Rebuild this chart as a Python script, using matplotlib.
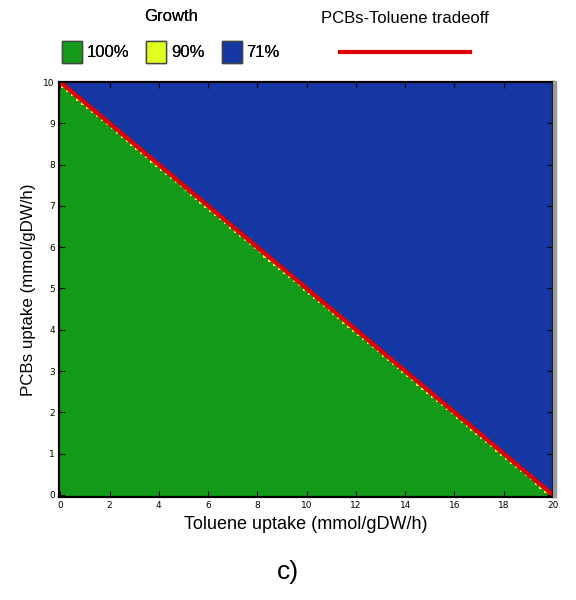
import numpy as np
import matplotlib
matplotlib.use('Agg')
import matplotlib.pyplot as plt
from matplotlib.colors import ListedColormap, BoundaryNorm
from matplotlib.patches import Patch, Rectangle
from matplotlib.lines import Line2D

# uptake grids (mmol/gDW/h)
toluene = np.linspace(0, 20, 201)
pcbs = np.linspace(0, 10, 101)

# maximum uptakes defining the tradeoff line
tradeoff_toluene = [0, 20]
tradeoff_pcbs = [10, 0]

growth_labels = ['100%', '90%', '71%']
growth_colors = ['#1437a4', '#dfff1f', '#139a19']

# relative growth on the grid, in steps of 0.05 along pcbs + toluene/2:
# full growth below the tradeoff, 90% one step under it, 71% on and above it
T, P = np.meshgrid(np.arange(len(toluene)), np.arange(len(pcbs)))
steps = 2 * P + T
growth = np.full(steps.shape, 100)
growth[steps == 199] = 90
growth[steps >= 200] = 71

fig = plt.figure(figsize=(5.76, 6.0), dpi=100)
ax = fig.add_axes([59 / 576, 103 / 600, 494 / 576, 415 / 600])

# soft shadow along the right edge of the plot frame
fig.patches.append(Rectangle((553 / 576, 103 / 600), 3 / 576, 416 / 600,
                             transform=fig.transFigure, color='#9a9a9a',
                             zorder=0))

cmap = ListedColormap(growth_colors)
norm = BoundaryNorm([60, 80, 95, 110], cmap.N)
dx = toluene[1] - toluene[0]
dy = pcbs[1] - pcbs[0]
ax.imshow(growth, origin='lower', cmap=cmap, norm=norm, aspect='auto',
          interpolation='nearest',
          extent=[toluene[0] - dx / 2, toluene[-1] + dx / 2,
                  pcbs[0] - dy / 2, pcbs[-1] + dy / 2])
ax.plot(tradeoff_toluene, tradeoff_pcbs, color='#e00000', lw=3.2,
        solid_capstyle='butt')

ax.set_xlim(-0.05, 20)
ax.set_ylim(-0.05, 10)
ax.set_xticks(np.arange(0, 21, 2))
ax.set_yticks(np.arange(0, 11, 1))
ax.tick_params(direction='in', labelsize=6.5, length=4, width=0.8,
               top=True, right=True, pad=3)
for sp in ax.spines.values():
    sp.set_linewidth(1.6)

ax.set_xlabel('Toluene uptake (mmol/gDW/h)', labelpad=4,
              family=['Liberation Sans', 'DejaVu Sans'], fontsize=13)
ax.set_ylabel('PCBs uptake (mmol/gDW/h)', labelpad=5,
              family=['Liberation Sans', 'DejaVu Sans'], fontsize=12.2)
fig.text(0.5, 1 - 572 / 600, 'c)', ha='center', va='center',
         family=['Liberation Sans', 'DejaVu Sans'], fontsize=19)

leg_font = {'family': ['Liberation Sans', 'DejaVu Sans'], 'size': 12}
patches = [Patch(facecolor=c, edgecolor='#444444', lw=1)
           for c in [growth_colors[2], growth_colors[1], growth_colors[0]]]
leg1 = fig.legend(handles=patches, labels=growth_labels, title='Growth',
                  ncol=3, frameon=False, prop=leg_font,
                  title_fontproperties=leg_font,
                  loc='center', bbox_to_anchor=(171 / 576, 1 - 36 / 600),
                  handlelength=1.2, handleheight=1.6, handletextpad=0.3,
                  columnspacing=1.0, borderpad=0, labelspacing=0)
leg1._legend_box.sep = 12
fig.add_artist(leg1)

leg2 = fig.legend(handles=[Line2D([], [], color='#e00000', lw=3)], labels=[''],
                  title='PCBs-Toluene tradeoff', frameon=False, prop=leg_font,
                  title_fontproperties=leg_font,
                  loc='center', bbox_to_anchor=(405 / 576, 1 - 36 / 600),
                  handlelength=7.8, handletextpad=0, borderpad=0)
leg2._legend_box.sep = 14

fig.savefig('out.png', dpi=100)
